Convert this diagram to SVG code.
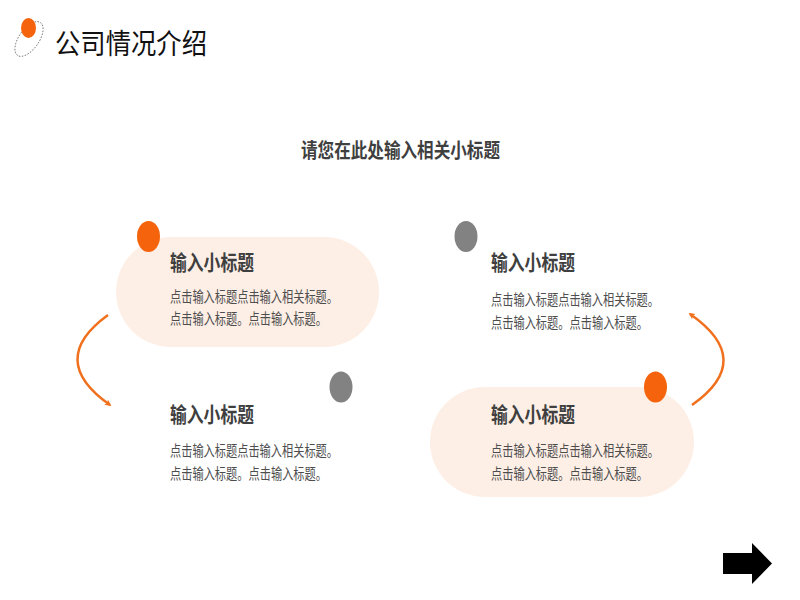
<svg xmlns="http://www.w3.org/2000/svg" width="800" height="600" viewBox="0 0 800 600">
<defs>
<style>
.t{font-family:"Noto Sans CJK SC","Noto Sans",sans-serif}
.h{font-size:21px;font-weight:bold;fill:#3f3f3f}
.b{font-size:15px;fill:#4d4d4d}
.pill{fill:#FDEFE6}
.or{fill:#F5640C}
.gr{fill:#828282}
.arc{fill:none;stroke:#F0701E;stroke-width:2.5}
</style>
<marker id="ah" viewBox="0 0 10 10" refX="6" refY="5" markerWidth="3.2" markerHeight="3.2" orient="auto" markerUnits="strokeWidth">
<path d="M0,1 L8,5 L0,9 L2,5 Z" fill="#F0701E"/>
</marker>
</defs>
<rect width="800" height="600" fill="#ffffff"/>
<g id="header">
<ellipse cx="29" cy="39" rx="10" ry="20" transform="rotate(35 29 39)" fill="none" stroke="#555" stroke-width="0.8" stroke-dasharray="1.5 1.5"/>
<ellipse cx="28.5" cy="28" rx="7.5" ry="10" class="or"/>
<text class="t" x="55" y="54" font-size="28" fill="#111" textLength="152" lengthAdjust="spacingAndGlyphs">公司情况介绍</text>
</g>
<g id="subtitle">
<text class="t" x="301" y="158" font-size="20" font-weight="bold" fill="#3f3f3f" textLength="199" lengthAdjust="spacingAndGlyphs">请您在此处输入相关小标题</text>
</g>
<g id="connectors">
<path class="arc" d="M108,315 Q46,360 110,405" marker-end="url(#ah)"/>
<path class="arc" d="M692,405 Q756,360 690,314" marker-end="url(#ah)"/>
</g>
<g id="node1">
<rect class="pill" x="116" y="237" width="263" height="110" rx="55"/>
<ellipse class="or" cx="148.5" cy="236.5" rx="11.5" ry="15.5"/>
<text class="t h" x="170" y="270" textLength="84" lengthAdjust="spacingAndGlyphs">输入小标题</text>
<text class="t b" x="170" y="302" textLength="168" lengthAdjust="spacingAndGlyphs">点击输入标题点击输入相关标题。</text>
<text class="t b" x="170" y="324" textLength="157" lengthAdjust="spacingAndGlyphs">点击输入标题。点击输入标题。</text>
</g>
<g id="node2">
<ellipse class="gr" cx="466" cy="236.5" rx="11.5" ry="15.5"/>
<text class="t h" x="491" y="270" textLength="84" lengthAdjust="spacingAndGlyphs">输入小标题</text>
<text class="t b" x="491" y="305" textLength="168" lengthAdjust="spacingAndGlyphs">点击输入标题点击输入相关标题。</text>
<text class="t b" x="491" y="328" textLength="157" lengthAdjust="spacingAndGlyphs">点击输入标题。点击输入标题。</text>
</g>
<g id="node3">
<ellipse class="gr" cx="341" cy="387" rx="11.5" ry="15.5"/>
<text class="t h" x="170" y="422" textLength="84" lengthAdjust="spacingAndGlyphs">输入小标题</text>
<text class="t b" x="170" y="456" textLength="168" lengthAdjust="spacingAndGlyphs">点击输入标题点击输入相关标题。</text>
<text class="t b" x="170" y="479" textLength="157" lengthAdjust="spacingAndGlyphs">点击输入标题。点击输入标题。</text>
</g>
<g id="node4">
<rect class="pill" x="430" y="387" width="264" height="110" rx="55"/>
<ellipse class="or" cx="655.5" cy="387" rx="11.5" ry="15.5"/>
<text class="t h" x="491" y="422" textLength="84" lengthAdjust="spacingAndGlyphs">输入小标题</text>
<text class="t b" x="491" y="456" textLength="168" lengthAdjust="spacingAndGlyphs">点击输入标题点击输入相关标题。</text>
<text class="t b" x="491" y="479" textLength="157" lengthAdjust="spacingAndGlyphs">点击输入标题。点击输入标题。</text>
</g>
<g id="next-arrow">
<path d="M723,553 L752,553 L752,543 L772,563.5 L752,584 L752,574 L723,574 Z" fill="#000"/>
</g>
</svg>
